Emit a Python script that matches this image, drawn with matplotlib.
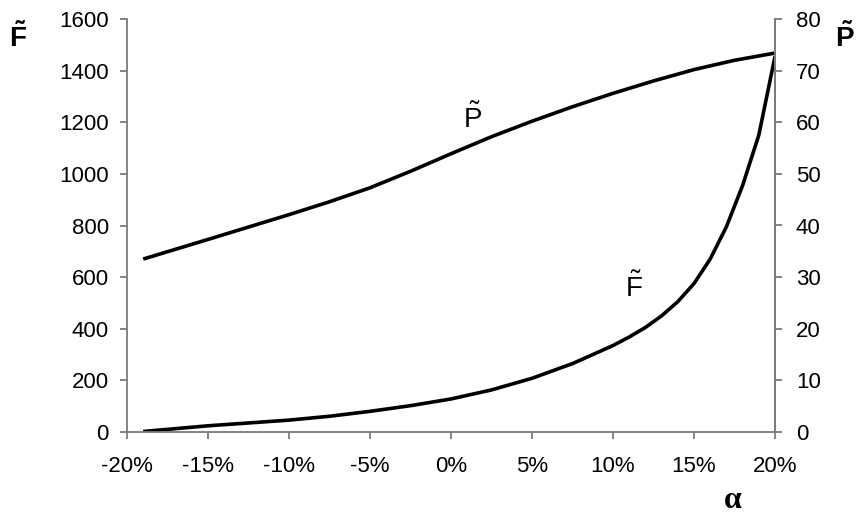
import matplotlib.pyplot as plt
from matplotlib.ticker import FuncFormatter

plt.rcParams['font.family'] = ['Liberation Sans', 'DejaVu Sans']
plt.rcParams['mathtext.fontset'] = 'custom'
plt.rcParams['mathtext.rm'] = 'Liberation Sans'
plt.rcParams['mathtext.bf'] = 'Liberation Sans:bold'

# alpha in %
alpha_f = [-19, -17, -15, -12.5, -10, -7.5, -5, -2.5, 0, 2.5, 5, 7.5, 10,
           11, 12, 13, 14, 15, 16, 17, 18, 19, 20]
f_vals = [2, 13, 24, 35, 46, 61, 80, 102, 128, 163, 208, 265, 335,
          368, 405, 450, 505, 575, 670, 795, 955, 1150, 1455]

alpha_p = [-19, -15, -12.5, -10, -7.5, -5, -2.5, 0, 2.5, 5, 7.5, 10,
           12.5, 15, 17.5, 20]
p_vals = [33.5, 37.3, 39.7, 42.1, 44.6, 47.3, 50.5, 53.9, 57.2, 60.2,
          63.0, 65.6, 68.0, 70.2, 72.0, 73.4]

x_ticks = [-20, -15, -10, -5, 0, 5, 10, 15, 20]
f_ticks = list(range(0, 1601, 200))
p_ticks = list(range(0, 81, 10))

grey = '#7a7a7a'

fig = plt.figure(figsize=(8.61, 5.19), dpi=100)
ax = fig.add_axes([127 / 861, 87 / 519, 648 / 861, 413 / 519])
ax2 = ax.twinx()

ax.plot(alpha_f, f_vals, color='black', lw=2.6, solid_capstyle='butt')
ax2.plot(alpha_p, p_vals, color='black', lw=2.6, solid_capstyle='butt')

ax.set_xlim(-20, 20)
ax.set_ylim(0, 1600)
ax2.set_ylim(0, 80)
ax.set_xticks(x_ticks)
ax.set_yticks(f_ticks)
ax2.set_yticks(p_ticks)
ax.xaxis.set_major_formatter(FuncFormatter(lambda v, pos: f'{v:.0f}%'))

for a in (ax, ax2):
    a.spines['top'].set_visible(False)
    for s in ('left', 'right', 'bottom'):
        a.spines[s].set_color(grey)
        a.spines[s].set_linewidth(1.3)
    a.tick_params(direction='out', length=5, width=1.3, color=grey,
                  labelsize=16, labelcolor='black')
ax.tick_params(axis='y', pad=8)
ax.tick_params(axis='x', pad=12)
ax2.tick_params(axis='y', pad=10)
ax2.spines['left'].set_visible(False)
ax2.spines['bottom'].set_visible(False)

# curve labels
ax.text(1.3, 1215, r'$\tilde{\mathrm{P}}$', fontsize=20, ha='center', va='center')
ax.text(11.3, 560, r'$\tilde{\mathrm{F}}$', fontsize=20, ha='center', va='center')

# axis labels
fig.text(18 / 861, 1 - 38 / 519, r'$\mathbf{\tilde{F}}$', fontsize=20,
         ha='center', va='center')
fig.text(845 / 861, 1 - 38 / 519, r'$\mathbf{\tilde{P}}$', fontsize=20,
         ha='center', va='center')
fig.text(733 / 861, 1 - 501 / 519, 'α', fontsize=23, fontweight='bold',
         family='Liberation Serif', ha='center', va='center')

fig.savefig('out.png', dpi=100)
